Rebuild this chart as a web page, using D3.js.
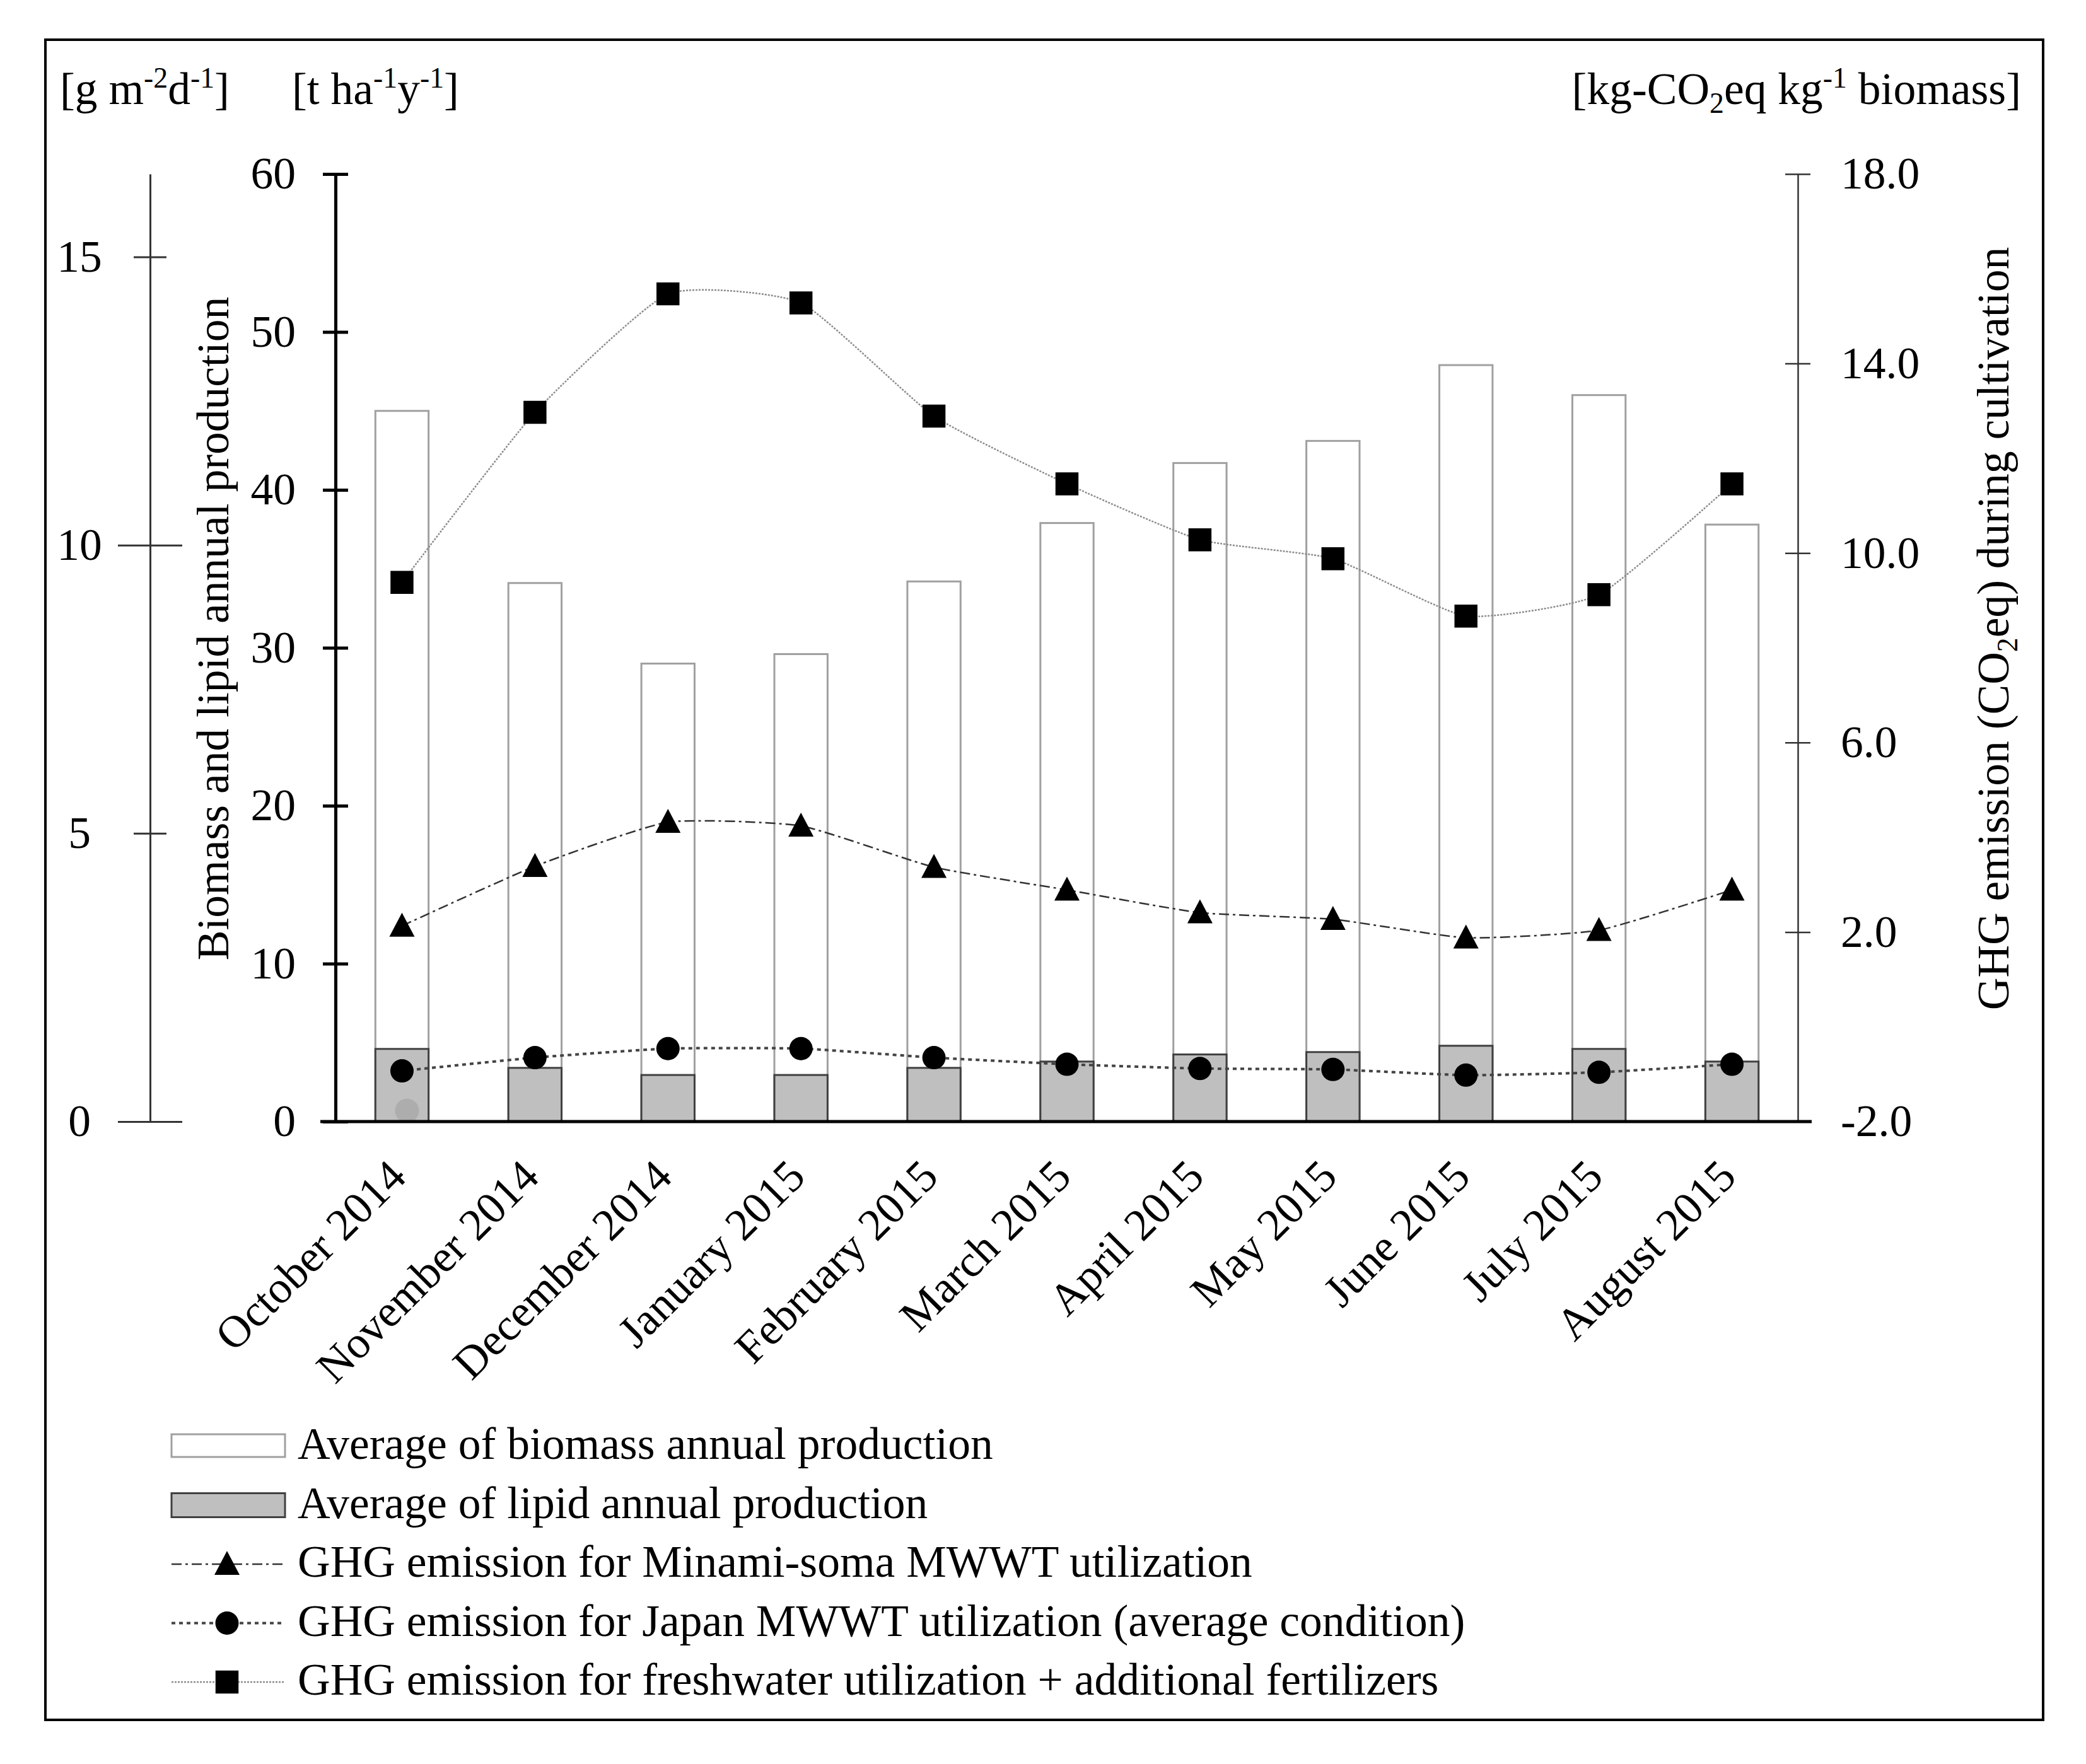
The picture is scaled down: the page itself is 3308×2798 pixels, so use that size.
<!DOCTYPE html>
<html>
<head>
<meta charset="utf-8">
<script src="https://cdn.jsdelivr.net/npm/d3@7"></script>
<style>body{margin:0;background:#fff}</style>
</head>
<body>
<script>
// values
var months = ["October 2014", "November 2014", "December 2014", "January 2015", "February 2015",
  "March 2015", "April 2015", "May 2015", "June 2015", "July 2015", "August 2015"];
var biomass = [45.0, 34.1, 29.0, 29.6, 34.2, 37.9, 41.7, 43.1, 47.9, 46.0, 37.8];
var lipid = [4.6, 3.4, 2.95, 2.95, 3.4, 3.8, 4.25, 4.4, 4.8, 4.6, 3.8];
var ghgMinami = [2.13, 3.39, 4.32, 4.24, 3.37, 2.89, 2.41, 2.27, 1.88, 2.04, 2.89];
var ghgJapan = [-0.93, -0.65, -0.46, -0.46, -0.65, -0.79, -0.88, -0.9, -1.02, -0.96, -0.79];
var ghgFresh = [9.38, 12.97, 15.47, 15.28, 12.89, 11.46, 10.28, 9.88, 8.67, 9.12, 11.46];
var ghostPoint = [-1.77]; // faint grey dot left in the October bar
var leftTicks = [0, 10, 20, 30, 40, 50, 60];
var gTicks = [0, 5, 10, 15];
var rightTicks = [-2, 2, 6, 10, 14, 18];
var legendLabels = ["Average of biomass annual production",
  "Average of lipid annual production",
  "GHG emission for Minami-soma MWWT utilization",
  "GHG emission for Japan MWWT utilization (average condition)",
  "GHG emission for freshwater utilization + additional fertilizers"];

var W = 3308, H = 2798, FS = 71.5;
var FONT = "'Liberation Serif', 'Times New Roman', serif";
var plotTop = 276, plotBottom = 1779, xL = 532, xR = 2851, xG = 238;

var svg = d3.select("body").append("svg")
    .attr("width", W)
    .attr("height", H)
    .style("font-family", FONT);

// outer frame
svg.append("rect")
    .attr("x", 72).attr("y", 63)
    .attr("width", 3168).attr("height", 2665)
    .attr("fill", "none")
    .attr("stroke", "#000")
    .attr("stroke-width", 4);

var x = d3.scaleBand().domain(months).range([xL, 2852]).paddingInner(0.6).paddingOuter(0.3);
var y = d3.scaleLinear().domain([0, 60]).range([plotBottom, plotTop]);
var yG = d3.scaleLinear().domain([0, 60 * 100 / 365]).range([plotBottom, plotTop]);
var yR = d3.scaleLinear().domain([-2, 18]).range([plotBottom, plotTop]);
var cx = function(d) { return x(d) + x.bandwidth() / 2; };

// bars
svg.append("g").selectAll("rect").data(months).join("rect")
    .attr("x", function(d) { return x(d); })
    .attr("width", x.bandwidth())
    .attr("y", function(d, i) { return y(biomass[i]); })
    .attr("height", function(d, i) { return y(0) - y(biomass[i]); })
    .attr("fill", "#fff")
    .attr("stroke", "#a0a0a0")
    .attr("stroke-width", 3);

svg.append("g").selectAll("rect").data(months).join("rect")
    .attr("x", function(d) { return x(d); })
    .attr("width", x.bandwidth())
    .attr("y", function(d, i) { return y(lipid[i]); })
    .attr("height", function(d, i) { return y(0) - y(lipid[i]); })
    .attr("fill", "#bfbfbf")
    .attr("stroke", "#404040")
    .attr("stroke-width", 3);

svg.append("g").selectAll("circle").data(ghostPoint).join("circle")
    .attr("cx", cx(months[0]) + 8)
    .attr("cy", function(d) { return yR(d); })
    .attr("r", 19)
    .attr("fill", "#adadad");

// marker shapes
var triangle = { draw: function(ctx) {
  ctx.moveTo(0, -21); ctx.lineTo(20, 17); ctx.lineTo(-20, 17); ctx.closePath();
}};
var styles = [
  { vals: ghgMinami, dash: "16,6,4,6", color: "#333", width: 2.5, sym: d3.symbol().type(triangle)() },
  { vals: ghgJapan, dash: "6,6", color: "#444", width: 4, sym: d3.symbol().type(d3.symbolCircle).size(1075)() },
  { vals: ghgFresh, dash: "3,2", color: "#8c8c8c", width: 2.5, sym: d3.symbol().type(d3.symbolSquare).size(1330)() }
];

var line = d3.line().curve(d3.curveCardinal.tension(0.5));
styles.forEach(function(s) {
  svg.append("path")
      .attr("d", line(months.map(function(m, i) { return [cx(m), yR(s.vals[i])]; })))
      .attr("fill", "none")
      .attr("stroke", s.color)
      .attr("stroke-width", s.width)
      .attr("stroke-dasharray", s.dash);
  svg.append("g").selectAll("path").data(months).join("path")
      .attr("d", s.sym)
      .attr("transform", function(m, i) { return "translate(" + cx(m) + "," + yR(s.vals[i]) + ")"; })
      .attr("fill", "#000");
});

// main left axis
var axL = svg.append("g")
    .attr("transform", "translate(" + xL + ",0)")
    .call(d3.axisLeft(y).tickValues(leftTicks).tickSize(0).tickSizeOuter(0).tickPadding(63))
    .attr("font-size", FS).attr("font-family", FONT);
axL.select(".domain").attr("stroke", "#000").attr("stroke-width", 5);
axL.selectAll(".tick line").attr("x1", -20).attr("x2", 20).attr("stroke", "#000").attr("stroke-width", 5);
axL.selectAll(".tick text").attr("fill", "#000");

// g m-2 d-1 axis
var axG = svg.append("g")
    .attr("transform", "translate(" + xG + ",0)")
    .call(d3.axisLeft(yG).tickValues(gTicks).tickSize(0).tickSizeOuter(0))
    .attr("font-size", FS).attr("font-family", FONT);
axG.select(".domain").attr("stroke", "#333").attr("stroke-width", 3);
axG.selectAll(".tick line")
    .attr("x1", function(d) { return d % 10 === 0 ? -51 : -26; })
    .attr("x2", function(d) { return d % 10 === 0 ? 51 : 26; })
    .attr("stroke", "#333").attr("stroke-width", 3);
axG.selectAll(".tick text").attr("x", -112).attr("text-anchor", "middle").attr("fill", "#000");

// right axis
var axR = svg.append("g")
    .attr("transform", "translate(" + xR + ",0)")
    .call(d3.axisRight(yR).tickValues(rightTicks).tickSize(0).tickSizeOuter(0).tickPadding(68)
      .tickFormat(function(d) { return d.toFixed(1); }))
    .attr("font-size", FS).attr("font-family", FONT);
axR.select(".domain").attr("stroke", "#333").attr("stroke-width", 2.5);
axR.selectAll(".tick line").attr("x1", -20).attr("x2", 20).attr("stroke", "#333").attr("stroke-width", 2.5);
axR.selectAll(".tick text").attr("fill", "#000");

// category axis
var axB = svg.append("g")
    .attr("transform", "translate(0," + plotBottom + ")")
    .call(d3.axisBottom(x).tickSize(0).tickSizeOuter(0))
    .attr("font-size", FS).attr("font-family", FONT);
axB.select(".domain").remove();
axB.selectAll(".tick text")
    .attr("y", 0).attr("dy", 0)
    .attr("text-anchor", "end")
    .attr("fill", "#000")
    .attr("transform", "translate(10,91) rotate(-45)");
svg.append("line")
    .attr("x1", xL - 24).attr("x2", xR + 22)
    .attr("y1", plotBottom).attr("y2", plotBottom)
    .attr("stroke", "#000").attr("stroke-width", 5);

// rich text helper for super/subscripts
function rich(sel, parts) {
  var shift = 0;
  parts.forEach(function(p) {
    var t = sel.append("tspan").text(p[0]);
    var want = p[1] === "sup" ? -0.36 * FS : p[1] === "sub" ? 0.2 * FS : 0;
    if (want - shift !== 0) t.attr("dy", want - shift);
    if (p[1]) t.attr("font-size", FS * 0.64);
    shift = want;
  });
}

rich(svg.append("text").attr("x", 95).attr("y", 165).attr("font-size", FS),
  [["[g m"], ["-2", "sup"], ["d"], ["-1", "sup"], ["]"]]);
rich(svg.append("text").attr("x", 463).attr("y", 165).attr("font-size", FS),
  [["[t ha"], ["-1", "sup"], ["y"], ["-1", "sup"], ["]"]]);
rich(svg.append("text").attr("x", 3205).attr("y", 165).attr("font-size", FS).attr("text-anchor", "end"),
  [["[kg-CO"], ["2", "sub"], ["eq kg"], ["-1", "sup"], [" biomass]"]]);

svg.append("text")
    .attr("transform", "translate(362,997) rotate(-90)")
    .attr("text-anchor", "middle")
    .attr("font-size", FS)
    .text("Biomass and lipid annual production");
rich(svg.append("text")
    .attr("transform", "translate(3185,997) rotate(-90)")
    .attr("text-anchor", "middle")
    .attr("font-size", FS),
  [["GHG emission (CO"], ["2", "sub"], ["eq) during cultivation"]]);

// legend
var lg = svg.append("g").attr("font-size", FS);
var base = function(i) { return 2314 + i * 93.5; };
lg.selectAll("text").data(legendLabels).join("text")
    .attr("x", 472)
    .attr("y", function(d, i) { return base(i); })
    .text(function(d) { return d; });
lg.append("rect").attr("x", 272).attr("y", base(0) - 39).attr("width", 180).attr("height", 36)
    .attr("fill", "#fff").attr("stroke", "#a0a0a0").attr("stroke-width", 3);
lg.append("rect").attr("x", 272).attr("y", base(1) - 39).attr("width", 180).attr("height", 38)
    .attr("fill", "#bfbfbf").attr("stroke", "#404040").attr("stroke-width", 3);
styles.forEach(function(s, k) {
  var ly = base(k + 2) - 20;
  lg.append("line").attr("x1", 272).attr("x2", 452).attr("y1", ly).attr("y2", ly)
      .attr("stroke", s.color).attr("stroke-width", s.width).attr("stroke-dasharray", s.dash);
  lg.append("path").attr("d", s.sym).attr("transform", "translate(360," + ly + ")").attr("fill", "#000");
});
</script>
</body>
</html>
